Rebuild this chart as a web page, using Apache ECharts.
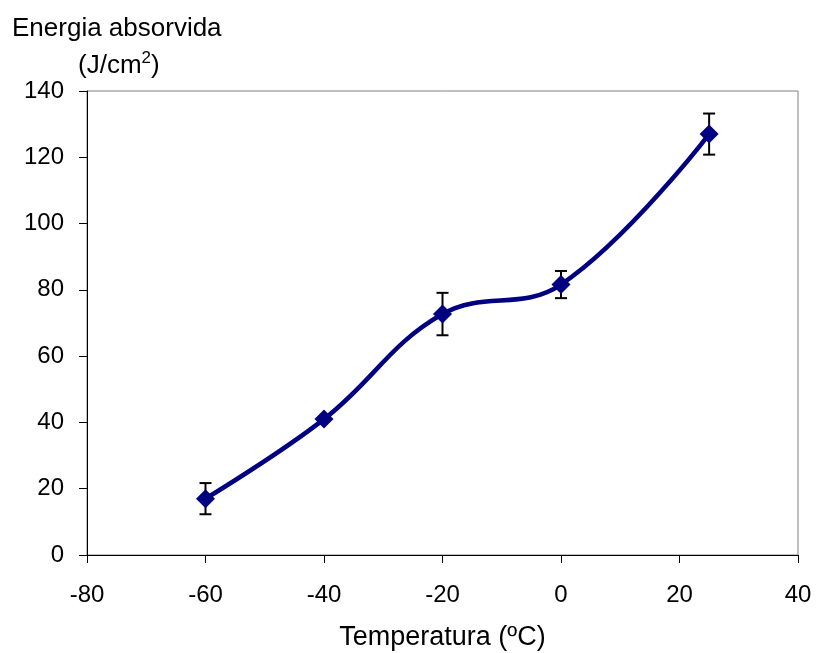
<!DOCTYPE html>
<html>
<head>
<meta charset="utf-8">
<script src="https://cdn.jsdelivr.net/npm/echarts@6/dist/echarts.min.js"></script>
<style>
  html, body { margin: 0; padding: 0; background: #fff; }
  #chart { width: 818px; height: 653px; }
</style>
</head>
<body>
<div id="chart"></div>
<script>
// temperatura (ºC) e energia absorvida (J/cm2), com desvio
const temperaturas = [-60, -40, -20, 0, 25];
const energia = [17, 41, 72.7, 81.6, 127];
const desvio = [4.7, 0, 6.4, 4.1, 6.2];
const xTicks = [-80, -60, -40, -20, 0, 20, 40];
const yTicks = [0, 20, 40, 60, 80, 100, 120, 140];

const chart = echarts.init(document.getElementById('chart'));

const pontos = temperaturas.map((t, i) => [t, energia[i]]);
const barras = temperaturas.map((t, i) => [t, energia[i] - desvio[i], energia[i] + desvio[i]]);

const fonte = 'Liberation Sans, Arial, sans-serif';

let option = {
    animation: false,
    grid: {
        left: 87, right: 20, top: 91, bottom: 98,
        outerBoundsMode: 'none',
        show: true, borderColor: '#808080', borderWidth: 1
    },
    xAxis: {
        type: 'value',
        min: xTicks[0], max: xTicks[xTicks.length - 1], interval: 20,
        name: 'Temperatura (ºC)',
        nameLocation: 'middle',
        nameGap: 69,
        nameTextStyle: { fontFamily: fonte, fontSize: 27, color: '#000' },
        axisLine: { onZero: false, lineStyle: { color: '#000', width: 1 } },
        axisTick: { length: 8, lineStyle: { color: '#000' } },
        axisLabel: { fontFamily: fonte, fontSize: 24, color: '#000', margin: 28 },
        splitLine: { show: false }
    },
    yAxis: {
        type: 'value',
        min: yTicks[0], max: yTicks[yTicks.length - 1], interval: 20,
        axisLine: { show: true, onZero: false, lineStyle: { color: '#000', width: 1 } },
        axisTick: { show: true, length: 8, lineStyle: { color: '#000' } },
        axisLabel: { fontFamily: fonte, fontSize: 24, color: '#000', margin: 23 },
        splitLine: { show: false }
    },
    graphic: [
        {
            type: 'text', left: 12, top: 16,
            style: { text: 'Energia absorvida', font: '26px ' + fonte, fill: '#000' }
        },
        {
            type: 'text', left: 78, top: 50,
            style: {
                text: '(J/cm{sup|2})',
                font: '26px ' + fonte, fill: '#000',
                rich: { sup: { fontSize: 17, verticalAlign: 'top', padding: [0, 0, 14, 0], fontFamily: fonte } }
            }
        }
    ],
    series: [
        {
            type: 'custom',
            z: 1,
            data: barras,
            renderItem: function (params, api) {
                const x = api.value(0);
                const lo = api.coord([x, api.value(1)]);
                const hi = api.coord([x, api.value(2)]);
                if (Math.abs(hi[1] - lo[1]) < 1) return null;
                const w = 6;
                const st = { stroke: '#000', lineWidth: 2 };
                return {
                    type: 'group',
                    children: [
                        { type: 'line', shape: { x1: lo[0], y1: lo[1], x2: hi[0], y2: hi[1] }, style: st },
                        { type: 'line', shape: { x1: lo[0] - w, y1: lo[1], x2: lo[0] + w, y2: lo[1] }, style: st },
                        { type: 'line', shape: { x1: hi[0] - w, y1: hi[1], x2: hi[0] + w, y2: hi[1] }, style: st }
                    ]
                };
            }
        },
        {
            type: 'line',
            z: 2,
            data: pontos,
            smooth: 0.4,
            symbol: 'diamond',
            symbolSize: 19,
            lineStyle: { color: '#000080', width: 4.5 },
            itemStyle: { color: '#000080' }
        }
    ]
};
chart.setOption(option);
</script>
</body>
</html>
